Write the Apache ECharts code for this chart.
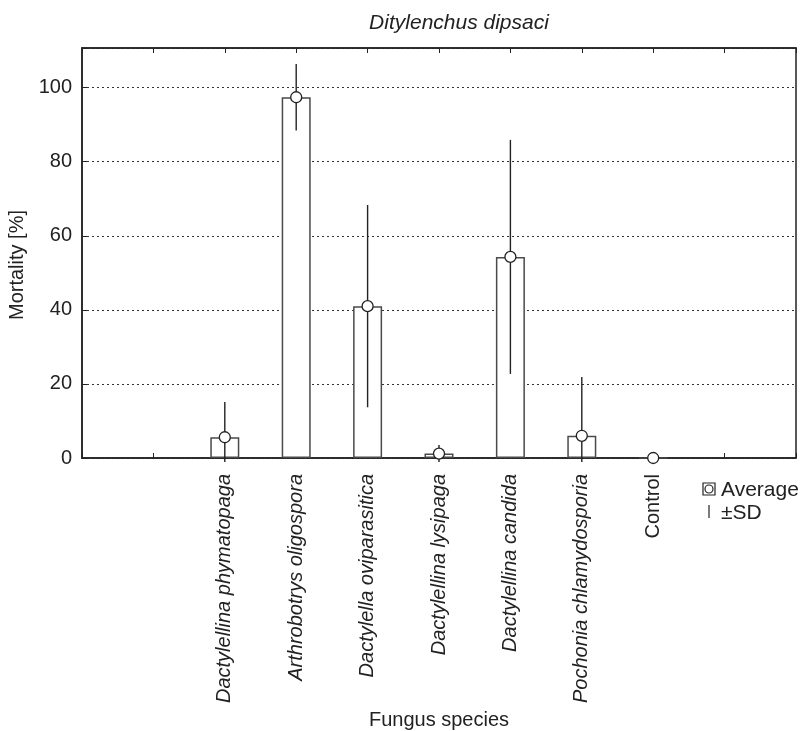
<!DOCTYPE html>
<html>
<head>
<meta charset="utf-8">
<script src="https://cdn.jsdelivr.net/npm/echarts@6/dist/echarts.min.js"></script>
<style>
html,body{margin:0;padding:0;background:#fff;}
#c{width:803px;height:731px;}
</style>
</head>
<body>
<div id="c"></div>
<script>
// Data
var categories = ['Dactylellina phymatopaga','Arthrobotrys oligospora','Dactylella oviparasitica','Dactylellina lysipaga','Dactylellina candida','Pochonia chlamydosporia','Control'];
var positions = [2,3,4,5,6,7,8];
var averages = [5.6, 97.4, 41.0, 1.2, 54.3, 6.0, 0];
var sds = [9.5, 9.0, 27.3, 2.3, 31.6, 15.9, 0];
var yTicks = [0,20,40,60,80,100];

var FONT = 'Liberation Sans, Arial, sans-serif';
var labelMap = {};
positions.forEach(function(p,i){ labelMap[p] = categories[i]; });

var barData = positions.map(function(p,i){ return [p, averages[i]]; });
var sdData = positions.map(function(p,i){ return [p, averages[i], sds[i]]; });

var chart = echarts.init(document.getElementById('c'), null, {renderer:'canvas'});
var option = {
  animation:false,
  backgroundColor:'#fff',
  title:{
    text:'Ditylenchus dipsaci',
    left:454, top:8, textAlign:'center',
    textStyle:{fontFamily:FONT, fontSize:21, fontStyle:'italic', fontWeight:'normal', color:'#222'}
  },
  grid:{left:82, right:7, top:48, bottom:273, show:true, borderColor:'#222', borderWidth:1.5,
        containLabel:false, outerBoundsMode:'none'},
  xAxis:[{
    type:'value', min:0, max:10, interval:1, position:'bottom',
    name:'Fungus species', nameLocation:'middle', nameGap:248,
    nameTextStyle:{fontFamily:FONT, fontSize:20, color:'#222'},
    axisLine:{show:true, lineStyle:{color:'#222', width:1.5}},
    axisTick:{show:true, inside:true, length:5, lineStyle:{color:'#222'}},
    splitLine:{show:false},
    axisLabel:{
      rotate:90, margin:16, interval:0,
      formatter:function(v){
        var n = labelMap[v];
        if(!n) return '';
        return n === 'Control' ? '{n|' + n + '}' : '{i|' + n + '}';
      },
      rich:{
        i:{fontFamily:FONT, fontSize:20, fontStyle:'italic', color:'#222'},
        n:{fontFamily:FONT, fontSize:20, color:'#222'}
      }
    }
  },{
    type:'value', min:0, max:10, interval:1, position:'top',
    axisLine:{show:true, lineStyle:{color:'#222', width:1.5}},
    axisTick:{show:true, inside:true, length:5, lineStyle:{color:'#222'}},
    axisLabel:{show:false}, splitLine:{show:false}
  }],
  yAxis:{
    type:'value', min:0, max:110.7, interval:20,
    name:'Mortality [%]', nameLocation:'middle', nameGap:48,
    nameTextStyle:{fontFamily:FONT, fontSize:20, color:'#222', padding:[0,24,0,0]},
    axisLine:{show:true, lineStyle:{color:'#222', width:1.5}},
    axisTick:{show:true, inside:true, length:5, lineStyle:{color:'#222'}},
    axisLabel:{
      fontFamily:FONT, fontSize:20, color:'#222', margin:10,
      formatter:function(v){ return (yTicks.indexOf(v) >= 0) ? String(v) : ''; }
    },
    splitLine:{show:true, lineStyle:{color:'#333', type:[2,3], width:1}}
  },
  series:[{
    type:'bar', xAxisIndex:0, data:barData, barWidth:29,
    itemStyle:{color:'#fff', borderColor:'#4a4a4a', borderWidth:1.5},
    z:2
  },{
    type:'custom', xAxisIndex:0, data:sdData, clip:false, z:3,
    renderItem:function(params, api){
      var x = api.value(0), m = api.value(1), s = api.value(2);
      if(!s) return null;
      var top = api.coord([x, m + s]);
      var bot = api.coord([x, m - s]);
      var y0 = api.coord([x, 0])[1];
      var by = Math.min(bot[1], y0 + 4);
      return {type:'line', shape:{x1:top[0], y1:top[1], x2:top[0], y2:by},
        style:{stroke:'#222', lineWidth:1.4}};
    }
  },{
    type:'scatter', xAxisIndex:0, data:barData, symbol:'circle', symbolSize:11,
    itemStyle:{color:'#fff', borderColor:'#222', borderWidth:1.3, opacity:1},
    z:4, clip:false
  }],
  graphic:[
    {type:'rect', shape:{x:703, y:483, width:12, height:12}, style:{fill:'#fff', stroke:'#222', lineWidth:1.2}, z:10},
    {type:'circle', shape:{cx:709, cy:489, r:4}, style:{fill:'#fff', stroke:'#222', lineWidth:1.2}, z:10},
    {type:'text', x:721, y:490, style:{text:'Average', fontFamily:FONT, fontSize:21, fill:'#222', textVerticalAlign:'middle', verticalAlign:'middle'}, z:10},
    {type:'line', shape:{x1:709, y1:505, x2:709, y2:518}, style:{stroke:'#222', lineWidth:1.2}, z:10},
    {type:'text', x:721, y:513, style:{text:'±SD', fontFamily:FONT, fontSize:21, fill:'#222', textVerticalAlign:'middle', verticalAlign:'middle'}, z:10}
  ]
};
chart.setOption(option);
</script>
</body>
</html>
